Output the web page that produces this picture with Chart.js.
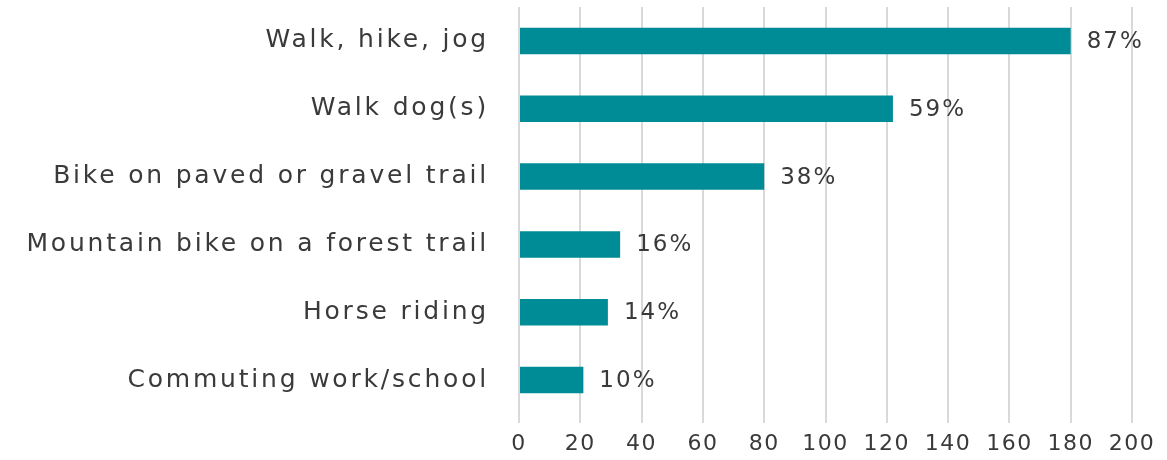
<!DOCTYPE html>
<html>
<head>
<meta charset="utf-8">
<script src="https://cdn.jsdelivr.net/npm/chart.js@4/dist/chart.umd.min.js"></script>
<style>
  html, body { margin: 0; padding: 0; background: #ffffff; }
  #wrap { width: 1167px; height: 460px; position: relative; }
</style>
</head>
<body>
<div id="wrap"><canvas id="c" width="1167" height="460"></canvas></div>
<script>
const categories = [
  "Walk, hike, jog",
  "Walk dog(s)",
  "Bike on paved or gravel trail",
  "Mountain bike on a forest trail",
  "Horse riding",
  "Commuting work/school"
];
const counts = [180, 122, 80, 33, 29, 21];
const percentLabels = ["87%", "59%", "38%", "16%", "14%", "10%"];
const xTicks = [0, 20, 40, 60, 80, 100, 120, 140, 160, 180, 200];

const FONT = "'DejaVu Sans', sans-serif";
const TEXT = "#3a3a3a";

function withSpacing(scale, spacing) {
  if (scale._spPatched) return;
  const orig = scale.drawLabels.bind(scale);
  scale.drawLabels = function (ca) {
    const c = this.ctx;
    const prev = c.letterSpacing;
    c.letterSpacing = spacing;
    orig(ca);
    c.letterSpacing = prev || '0px';
  };
  scale._spPatched = true;
}

const spacingPlugin = {
  id: 'spacing',
  afterLayout(chart) {
    withSpacing(chart.scales.y, '2.8px');
    withSpacing(chart.scales.x, '1.5px');
  }
};

const valueLabels = {
  id: 'valueLabels',
  afterDatasetsDraw(chart) {
    const ctx = chart.ctx;
    const meta = chart.getDatasetMeta(0);
    ctx.save();
    ctx.font = "23px " + FONT;
    ctx.letterSpacing = '2px';
    ctx.fillStyle = TEXT;
    ctx.textAlign = 'left';
    ctx.textBaseline = 'middle';
    meta.data.forEach((bar, i) => {
      ctx.fillText(percentLabels[i], bar.x + 16, bar.y + 1);
    });
    ctx.restore();
  }
};

new Chart(document.getElementById('c'), {
  type: 'bar',
  data: {
    labels: categories,
    datasets: [{
      data: counts,
      backgroundColor: '#008C96',
      borderWidth: 0,
      barPercentage: 0.78,
      categoryPercentage: 0.5
    }]
  },
  options: {
    indexAxis: 'y',
    responsive: false,
    animation: false,
    layout: { padding: { top: 7, right: 35, bottom: 0, left: 0 } },
    plugins: {
      legend: { display: false },
      tooltip: { enabled: false }
    },
    scales: {
      x: {
        min: 0, max: 200,
        afterBuildTicks(scale) { scale.ticks = xTicks.map(v => ({ value: v })); },
        afterFit(scale) { scale.height = 46; scale.paddingLeft = 0; scale.paddingRight = 0; },
        grid: { color: '#d9d9d9', lineWidth: 2, drawTicks: true, tickLength: 9 },
        border: { display: false },
        ticks: {
          font: { family: FONT, size: 22 },
          color: TEXT,
          padding: 8,
          maxRotation: 0,
          autoSkip: false
        }
      },
      y: {
        afterFit(scale) { scale.width = 519; scale.paddingTop = 0; scale.paddingBottom = 0; },
        grid: { display: false, drawTicks: false },
        border: { display: false },
        ticks: {
          font: { family: FONT, size: 25 },
          color: TEXT,
          padding: 30
        }
      }
    }
  },
  plugins: [spacingPlugin, valueLabels]
});
</script>
</body>
</html>
